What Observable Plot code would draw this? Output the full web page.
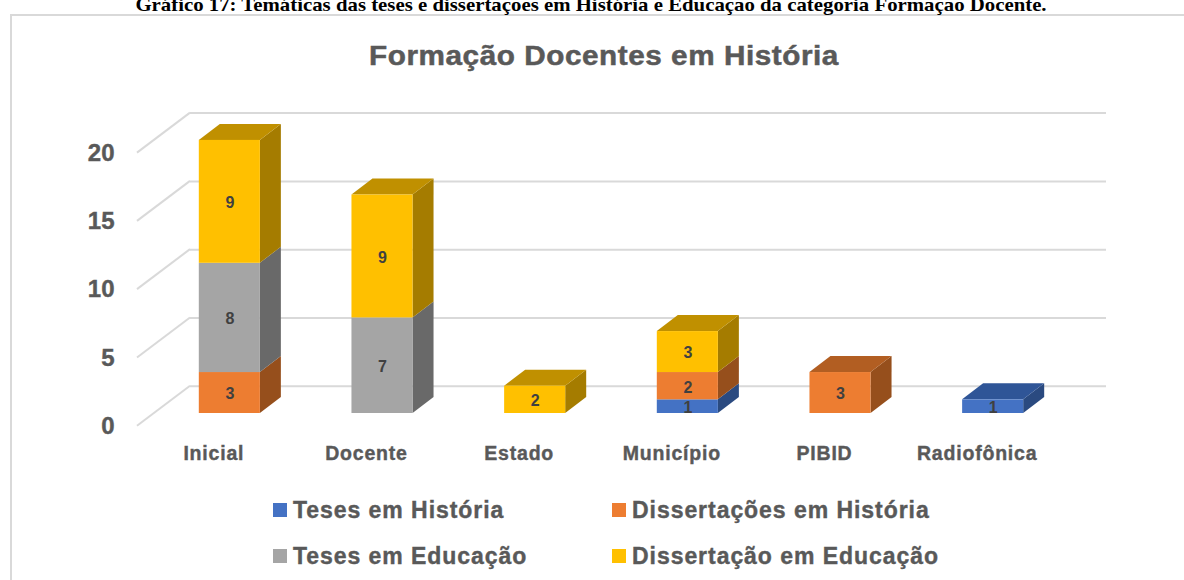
<!DOCTYPE html>
<html lang="pt">
<head>
<meta charset="utf-8">
<script src="https://cdn.jsdelivr.net/npm/d3@7"></script>
<script src="https://cdn.jsdelivr.net/npm/@observablehq/plot@0.6"></script>
<style>
html,body{margin:0;padding:0;background:#fff;overflow:hidden}
#page{position:relative;width:1184px;height:580px;overflow:hidden;font-family:"Liberation Sans",Arial,sans-serif}
#frame{position:absolute;left:10px;top:14px;width:1184px;height:600px;border:2px solid #d9d9d9;box-sizing:border-box}
#caption{position:absolute;left:0;width:1182px;top:-6px;text-align:center;font:bold 19px/22px "Liberation Serif",serif;color:#000;transform:scaleX(1.095);transform-origin:591px 0}
#title{position:absolute;left:0;width:1208px;top:40px;text-align:center;font-weight:bold;font-size:27px;line-height:32px;letter-spacing:.5px;color:#595959;-webkit-text-stroke:.5px #595959;transform:scaleX(1.1);transform-origin:604px 0}
#chart{position:absolute;left:0;top:0}
#chart svg{background:transparent;overflow:visible}
#chart [aria-label="x-axis tick label"] text{letter-spacing:.8px;stroke:#595959;stroke-width:.4px}
#chart [aria-label="y-axis tick label"] text{stroke:#595959;stroke-width:.4px}
.lg{position:absolute;display:flex;align-items:center;height:26px;font-weight:bold;font-size:23px;letter-spacing:.95px;color:#595959;-webkit-text-stroke:.4px #595959;white-space:nowrap}
.lg i{display:block;width:14px;height:14px;margin-right:6px}
</style>
</head>
<body>
<div id="page">
  <div id="frame"></div>
  <div id="caption">Gráfico 17: Temáticas das teses e dissertações em História e Educação da categoria Formação Docente.</div>
  <div id="title">Formação Docentes em História</div>
  <div id="chart"></div>
  <div id="legend"></div>
</div>
<script>
const categories = ["Inicial", "Docente", "Estado", "Município", "PIBID", "Radiofônica"];
const seriesNames = ["Teses em História", "Dissertações em História", "Teses em Educação", "Dissertação em Educação"];
const tesesHistoria = [0, 0, 0, 1, 0, 1];
const dissertacoesHistoria = [3, 0, 0, 2, 3, 0];
const tesesEducacao = [8, 7, 0, 0, 0, 0];
const dissertacaoEducacao = [9, 9, 2, 3, 0, 0];
const seriesValues = [tesesHistoria, dissertacoesHistoria, tesesEducacao, dissertacaoEducacao];
const frontColors = ["#4472C4", "#ED7D31", "#A5A5A5", "#FFC000"];
const sideColors = ["#2A4A80", "#964F1C", "#696969", "#A57C00"];
const topColors = ["#2F5597", "#B25E22", "#7F7F7F", "#C09000"];
const yTicks = [0, 5, 10, 15, 20];

const rows = [];
seriesNames.forEach((s, i) => categories.forEach((c, j) => {
  if (seriesValues[i][j] > 0) rows.push({category: c, series: s, value: seriesValues[i][j], index: i});
}));

// oblique projection of the chart box
const wallDx = 53, wallDy = -40;
const barDx = 16, barDy = -12.7;
const depthDx = 21, depthDy = -16;

function wallSlants(index, {y}, values, {marginLeft}) {
  const g = d3.create("svg:g").attr("stroke", "#d9d9d9").attr("stroke-width", 2);
  for (const t of yTicks) {
    g.append("line")
      .attr("x1", marginLeft).attr("y1", y(t))
      .attr("x2", marginLeft + wallDx).attr("y2", y(t) + wallDy);
  }
  return g.node();
}

function barDepth(index, {x, y}) {
  const g = d3.create("svg:g");
  const bw = typeof x.bandwidth === "function" ? x.bandwidth() : x.bandwidth;
  categories.forEach((c, j) => {
    let base = 0, topSeries = -1;
    const x0 = x(c) + barDx, x1 = x0 + bw;
    seriesValues.forEach((vals, i) => {
      const v = vals[j];
      if (!v) return;
      const y0 = y(base) + barDy, y1 = y(base + v) + barDy;
      g.append("path").attr("fill", sideColors[i])
        .attr("d", `M${x1},${y0}L${x1 + depthDx},${y0 + depthDy}L${x1 + depthDx},${y1 + depthDy}L${x1},${y1}Z`);
      base += v;
      topSeries = i;
    });
    const yt = y(base) + barDy;
    g.append("path").attr("fill", topColors[topSeries])
      .attr("d", `M${x0},${yt}L${x1},${yt}L${x1 + depthDx},${yt + depthDy}L${x0 + depthDx},${yt + depthDy}Z`);
  });
  return g.node();
}

const chart = Plot.plot({
  width: 1184,
  height: 580,
  marginLeft: 137,
  marginRight: 131,
  marginTop: 152.6,
  marginBottom: 154.3,
  style: {background: "transparent", fontFamily: '"Liberation Sans", Arial, sans-serif'},
  x: {type: "band", domain: categories, paddingInner: 0.6, paddingOuter: 0.3, round: false, axis: null},
  y: {domain: [0, 20], axis: null},
  color: {domain: seriesNames, range: frontColors},
  marks: [
    Plot.ruleY(yTicks, {stroke: "#d9d9d9", strokeWidth: 2, strokeOpacity: 1, dx: wallDx, dy: wallDy}),
    wallSlants,
    Plot.axisY({ticks: yTicks, label: null, tickSize: 0, tickPadding: 23, fontSize: 24, fontWeight: "bold", color: "#595959", tickFormat: d => String(d)}),
    Plot.axisX({label: null, tickSize: 0, tickPadding: 20, fontSize: 19.5, fontWeight: "bold", color: "#595959"}),
    barDepth,
    Plot.barY(rows, Plot.stackY({x: "category", y: "value", z: "index", fill: "series", order: null, dx: barDx, dy: barDy})),
    Plot.text(rows, Plot.stackY({x: "category", y: "value", z: "index", text: "value", order: null, dx: barDx, dy: barDy + 1.2, fontSize: 16, fontWeight: "bold", fill: "#404040"}))
  ]
});
document.getElementById("chart").append(chart);

const legendPos = [[273, 497], [612, 497], [273, 543], [612, 543]];
const legend = document.getElementById("legend");
seriesNames.forEach((s, i) => {
  const el = document.createElement("div");
  el.className = "lg";
  el.style.left = legendPos[i][0] + "px";
  el.style.top = legendPos[i][1] + "px";
  const sw = document.createElement("i");
  sw.style.background = frontColors[i];
  el.append(sw, document.createTextNode(s));
  legend.append(el);
});
</script>
</body>
</html>
